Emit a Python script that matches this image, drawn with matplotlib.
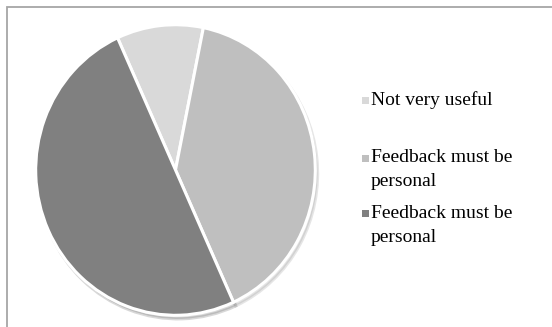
import matplotlib.pyplot as plt
from matplotlib.patches import Rectangle

# data
labels = ['Not very useful', 'Feedback must be\npersonal', 'Feedback must be\npersonal']
values = [10, 40, 50]
colors = ['#d9d9d9', '#bfbfbf', '#808080']

W, H = 552, 327
fig = plt.figure(figsize=(W / 100, H / 100), dpi=100)
fig.patch.set_facecolor('white')

# chart border (only top/left visible, rest cropped)
fig.add_artist(Rectangle((6.5 / W, -0.1), 1.2, (H - 7.5) / H + 0.1,
                         transform=fig.transFigure, fill=False,
                         edgecolor='#a6a6a6', linewidth=1.3))

# pie area in pixels: x 35..316, y 24..316 (top-down)
ax = fig.add_axes([35 / W, (H - 316) / H, 281 / W, 292 / H])
wedges, _ = ax.pie(values, colors=colors, startangle=114.5, counterclock=False,
                   wedgeprops=dict(edgecolor='white', linewidth=2.2),
                   shadow=dict(ox=0.012, oy=-0.018, shade=0.2, alpha=0.25))
ax.set_aspect('auto')
ax.set_xlim(-1.005, 1.005)
ax.set_ylim(-1.005, 1.005)
ax.axis('off')

# legend drawn by hand to mimic spacing
font = 'Liberation Serif'
fs = 14
x_mark = 365.5
x_text = 371
y_first = [100, 158, 213]
line_gap = 24
for lab, col, y0 in zip(labels, colors, y_first):
    fig.add_artist(Rectangle(((x_mark - 3.5) / W, (H - y0 - 3.5) / H), 7 / W, 7 / H,
                             transform=fig.transFigure, facecolor=col,
                             edgecolor='none'))
    for i, line in enumerate(lab.split('\n')):
        fig.text(x_text / W, (H - (y0 + i * line_gap)) / H, line,
                 fontsize=fs, family=font, va='center', ha='left', color='black')

plt.savefig('out.png', dpi=100)
